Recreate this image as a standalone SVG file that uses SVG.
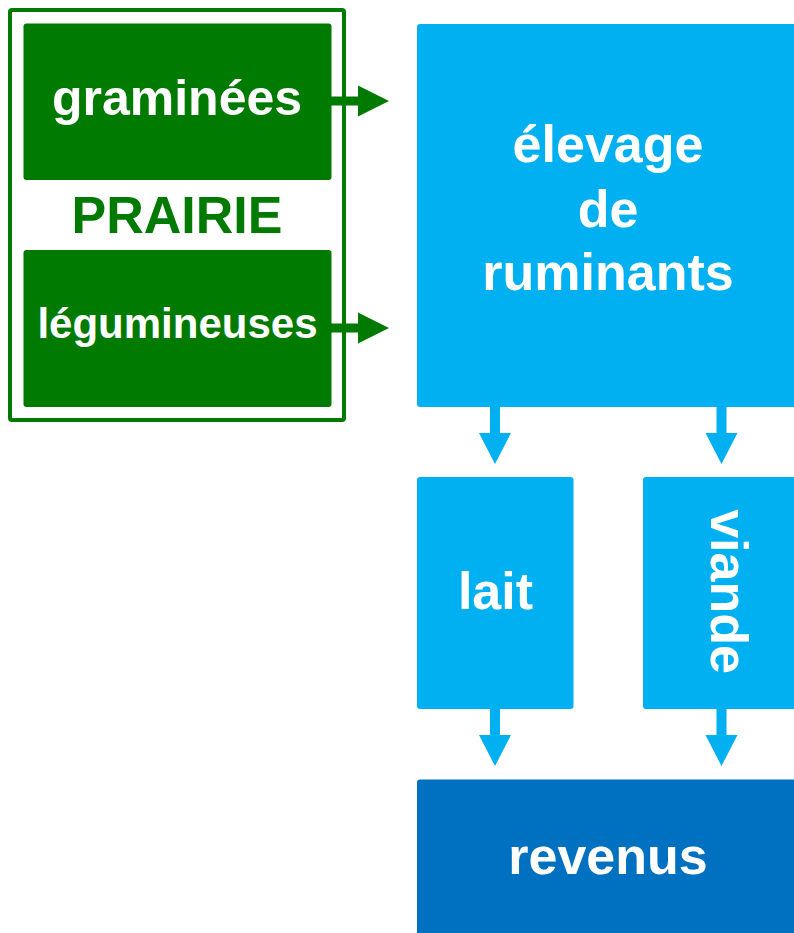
<svg xmlns="http://www.w3.org/2000/svg" width="794" height="933" viewBox="0 0 794 933">
  <style>
    .lbl { font-family: "Liberation Sans", Arial, sans-serif; font-weight: bold; fill: #FFFFFF; text-anchor: middle; }
    .green { fill: #007A00; }
    .light { fill: #00B0F0; }
    .dark { fill: #0070C0; }
  </style>
  <defs>
    <!-- horizontal green block arrow: shaft + head, pointing right -->
    <path id="arrowRight" d="M0,-4.5 H27 V-15.5 L58,0 L27,15.5 V4.5 H0 Z"/>
    <!-- vertical blue block arrow: shaft + head, pointing down -->
    <path id="arrowDown" d="M-5,0 H5 V26 H16 L0,57 L-16,26 H-5 Z"/>
  </defs>

  <rect width="794" height="933" fill="#FFFFFF"/>

  <g id="prairie">
    <rect x="10" y="10" width="334" height="410" rx="2" fill="none" stroke="#007A00" stroke-width="4"/>
    <text class="lbl" x="177" y="233" font-size="52" style="fill:#007A00">PRAIRIE</text>
  </g>

  <g id="graminees">
    <rect class="green" x="23.5" y="23.5" width="308" height="156.5" rx="3"/>
    <text class="lbl" x="177" y="115" font-size="50">graminées</text>
  </g>

  <g id="legumineuses">
    <rect class="green" x="23.5" y="250" width="308" height="157" rx="3"/>
    <text class="lbl" x="177.5" y="338" font-size="42">légumineuses</text>
  </g>

  <g id="elevage">
    <rect class="light" x="417" y="24" width="390" height="383" rx="3"/>
    <text class="lbl" x="608" y="162" font-size="52">élevage</text>
    <text class="lbl" x="608" y="227" font-size="52">de</text>
    <text class="lbl" x="608" y="290" font-size="52">ruminants</text>
  </g>

  <g id="lait">
    <rect class="light" x="417" y="477" width="156.5" height="232" rx="3"/>
    <text class="lbl" x="495.5" y="609" font-size="52">lait</text>
  </g>

  <g id="viande">
    <rect class="light" x="643" y="477" width="164" height="232" rx="3"/>
    <text class="lbl" font-size="52" transform="translate(710.5,591.5) rotate(90)" x="0" y="0">viande</text>
  </g>

  <g id="revenus">
    <rect class="dark" x="417" y="779.5" width="390" height="170" rx="3"/>
    <text class="lbl" x="608" y="874" font-size="52">revenus</text>
  </g>

  <g id="connectors">
    <use href="#arrowRight" class="green" x="331" y="101"/>
    <use href="#arrowRight" class="green" x="331" y="328"/>
    <use href="#arrowDown" class="light" x="495" y="407"/>
    <use href="#arrowDown" class="light" x="721.5" y="407"/>
    <use href="#arrowDown" class="light" x="495" y="709"/>
    <use href="#arrowDown" class="light" x="721.5" y="709"/>
  </g>
</svg>
